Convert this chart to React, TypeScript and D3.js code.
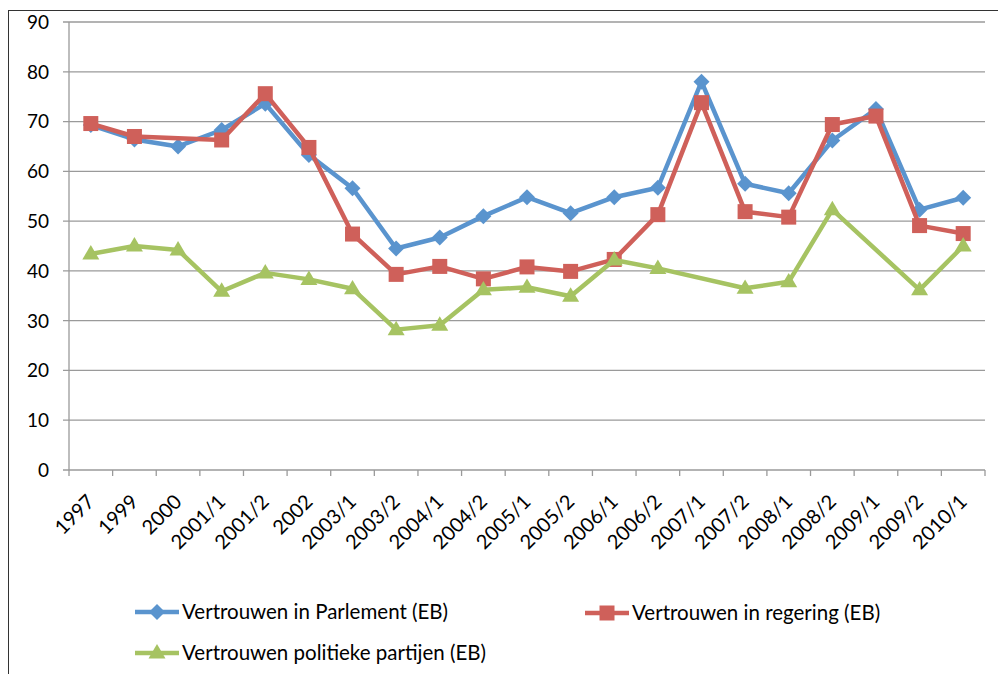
import React from "react";
import * as d3 from "d3";

const categories = ["1997","1999","2000","2001/1","2001/2","2002","2003/1","2003/2","2004/1","2004/2","2005/1","2005/2","2006/1","2006/2","2007/1","2007/2","2008/1","2008/2","2009/1","2009/2","2010/1"];
const parlement: (number | null)[] = [69.3,66.4,65.0,68.3,73.6,63.3,56.6,44.5,46.7,51.0,54.8,51.6,54.8,56.7,78.0,57.5,55.6,66.2,72.5,52.3,54.7];
const regering: (number | null)[] = [69.6,67.0,null,66.3,75.6,64.8,47.4,39.3,40.9,38.4,40.8,39.9,42.3,51.3,73.8,51.9,50.8,69.4,71.1,49.1,47.5];
const partijen: (number | null)[] = [43.4,45.0,44.2,35.9,39.6,38.3,36.4,28.2,29.1,36.2,36.7,34.9,42.2,40.5,null,36.5,37.8,52.3,null,36.2,45.0];
const yTicks = [0,10,20,30,40,50,60,70,80,90];

const series = [
  { name: "Vertrouwen in Parlement (EB)", values: parlement, color: "#5A94CE", marker: "diamond" },
  { name: "Vertrouwen in regering (EB)", values: regering, color: "#CF605A", marker: "square" },
  { name: "Vertrouwen politieke partijen (EB)", values: partijen, color: "#A6C362", marker: "triangle" },
];

const FONT = "Lato, 'Open Sans', sans-serif";

function Marker({ type, x, y, color }: { type: string; x: number; y: number; color: string }) {
  if (type === "diamond") {
    const s = 8;
    return <path d={`M${x},${y - s}L${x + s},${y}L${x},${y + s}L${x - s},${y}Z`} fill={color} />;
  }
  if (type === "square") {
    const s = 7.5;
    return <rect x={x - s} y={y - s} width={2 * s} height={2 * s} fill={color} />;
  }
  const s = 8.5;
  return <path d={`M${x},${y - s * 1.05}L${x + s},${y + s * 0.65}L${x - s},${y + s * 0.65}Z`} fill={color} />;
}

export default function App() {
  const W = 998, H = 674;
  const left = 69, right = 985, top = 22, bottom = 470;
  const x = d3.scaleBand<string>().domain(categories).range([left, right]);
  const y = d3.scaleLinear().domain([0, 90]).range([bottom, top]);
  const cx = (c: string) => (x(c) as number) + x.bandwidth() / 2;

  const legendItems = [
    { s: series[0], lx: 135, ly: 612 },
    { s: series[1], lx: 585, ly: 613 },
    { s: series[2], lx: 135, ly: 653 },
  ];

  return (
    <svg width={W} height={H} style={{ position: "absolute", left: 0, top: 0, background: "#fff" }}>
      <rect x={0} y={0} width={W} height={H} fill="#fff" />
      {/* frame */}
      <line x1={8.5} y1={10} x2={8.5} y2={H} stroke="#333" strokeWidth={1} />
      <line x1={8} y1={10.5} x2={W} y2={10.5} stroke="#333" strokeWidth={1} />
      {/* gridlines */}
      {yTicks.map((t) => (
        <g key={t}>
          <line x1={left - 6} x2={right} y1={y(t)} y2={y(t)} stroke="#9a9a9a" strokeWidth={1.3} />
          <text x={49} y={y(t)} dy="0.36em" textAnchor="end" fontFamily={FONT} fontSize={19} fill="#000">{t}</text>
        </g>
      ))}
      {/* y axis */}
      <line x1={left} x2={left} y1={top} y2={bottom} stroke="#9a9a9a" strokeWidth={1.3} />
      {/* x ticks */}
      {categories.map((c) => (
        <line key={c} x1={(x(c) as number)} x2={(x(c) as number)} y1={bottom} y2={bottom + 6} stroke="#9a9a9a" strokeWidth={1.3} />
      ))}
      <line x1={right} x2={right} y1={bottom} y2={bottom + 6} stroke="#9a9a9a" strokeWidth={1.3} />
      {categories.map((c) => (
        <text key={c} transform={`translate(${cx(c) + 5},${bottom + 33}) rotate(-45)`} textAnchor="end" fontFamily={FONT} fontSize={20} fill="#000">{c}</text>
      ))}
      {/* lines */}
      {series.map((s) => {
        const pts = categories.map((c, i) => [cx(c), s.values[i]] as [number, number | null]).filter((p) => p[1] !== null) as [number, number][];
        const line = d3.line<[number, number]>().x((d) => d[0]).y((d) => y(d[1]));
        return (
          <g key={s.name}>
            <path d={line(pts) || ""} fill="none" stroke={s.color} strokeWidth={4.5} strokeLinejoin="round" />
            {pts.map((p, i) => <Marker key={i} type={s.marker} x={p[0]} y={y(p[1])} color={s.color} />)}
          </g>
        );
      })}
      {/* legend */}
      {legendItems.map(({ s, lx, ly }) => (
        <g key={s.name}>
          <line x1={lx} x2={lx + 44} y1={ly} y2={ly} stroke={s.color} strokeWidth={4.5} />
          <Marker type={s.marker} x={lx + 22} y={ly} color={s.color} />
          <text x={lx + 47} y={ly} dy="0.36em" fontFamily={FONT} fontSize={20.5} fill="#000">{s.name}</text>
        </g>
      ))}
    </svg>
  );
}
